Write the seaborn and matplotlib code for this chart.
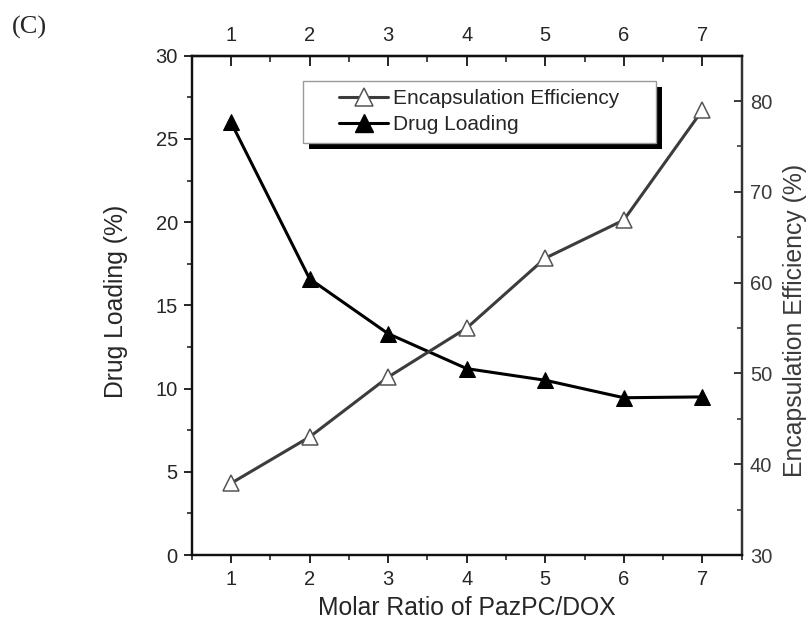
import matplotlib
matplotlib.use("Agg")
import matplotlib.pyplot as plt
import seaborn as sns
import pandas as pd
from matplotlib.patches import Rectangle
from matplotlib.ticker import MultipleLocator
from matplotlib.lines import Line2D

# Molar ratio PazPC/DOX
ratio = [1, 2, 3, 4, 5, 6, 7]
# Drug loading (%) - left axis
drug_loading = [26.0, 16.6, 13.3, 11.2, 10.5, 9.45, 9.5]
# Encapsulation efficiency (%) - right axis
encap_eff = [37.9, 43.0, 49.6, 55.0, 62.7, 66.9, 79.0]

series_names = ["Encapsulation Efficiency", "Drug Loading"]

df = pd.DataFrame({"ratio": ratio, "dl": drug_loading, "ee": encap_eff})

sns.set_theme(style="ticks")
plt.rcParams["font.family"] = ["Liberation Sans", "DejaVu Sans"]

fig = plt.figure(figsize=(8.11, 6.30), dpi=100)
ax = fig.add_axes([0.2364, 0.119, 0.6781, 0.7926])
ax2 = ax.twinx()

ee_col = "#3c3c3c"
ee_edge = "#555555"
right_col = "#3a3a3a"
tick_fs = 14.5

sns.lineplot(data=df, x="ratio", y="ee", ax=ax2, color=ee_col, lw=2.2,
             marker="^", markersize=11.5, markerfacecolor="white",
             markeredgecolor=ee_edge, markeredgewidth=1.1)
sns.lineplot(data=df, x="ratio", y="dl", ax=ax, color="black", lw=2.2,
             marker="^", markersize=11.5, markerfacecolor="black",
             markeredgecolor="black")

ax.set_xlim(0.5, 7.5)
ax.set_ylim(0, 30)
ax2.set_ylim(30, 85)

ax.xaxis.set_major_locator(MultipleLocator(1))
ax.xaxis.set_minor_locator(MultipleLocator(0.5))
ax.yaxis.set_major_locator(MultipleLocator(5))
ax.yaxis.set_minor_locator(MultipleLocator(2.5))
ax2.yaxis.set_major_locator(MultipleLocator(10))
ax2.yaxis.set_minor_locator(MultipleLocator(5))

for a in (ax, ax2):
    for s in a.spines.values():
        s.set_linewidth(1.6)
        s.set_color("#111111")
ax2.spines["right"].set_color("#333333")

# bottom and left ticks point outward
ax.tick_params(axis="x", which="major", direction="out", length=6,
               width=1.4, labelsize=tick_fs, pad=5, top=False)
ax.tick_params(axis="x", which="minor", direction="out", length=3.5,
               width=1.2, top=False)
ax.tick_params(axis="y", which="major", direction="out", length=6,
               width=1.4, labelsize=tick_fs, pad=4)
ax.tick_params(axis="y", which="minor", direction="out", length=3.5,
               width=1.2)
# right ticks point inward
ax2.tick_params(axis="y", which="major", direction="in", length=6,
                width=1.4, labelsize=tick_fs, pad=6, colors=right_col)
ax2.tick_params(axis="y", which="minor", direction="in", length=3.5,
                width=1.2, colors=right_col)

# top axis repeats the ratios with inward ticks
top = ax.secondary_xaxis("top")
top.xaxis.set_major_locator(MultipleLocator(1))
top.xaxis.set_minor_locator(MultipleLocator(0.5))
top.tick_params(axis="x", which="major", direction="in", length=7,
                width=1.4, labelsize=tick_fs, pad=8)
top.tick_params(axis="x", which="minor", direction="in", length=4,
                width=1.2)
top.spines["top"].set_linewidth(1.6)

ax.set_xlabel("Molar Ratio of PazPC/DOX", fontsize=17.8, labelpad=5)
ax.set_ylabel("Drug Loading (%)", fontsize=17.8, labelpad=20)
ax2.set_ylabel("Encapsulation Efficiency (%)", fontsize=17.8, labelpad=8,
               color=right_col)
ax.yaxis.label.set_y(0.508)
ax2.yaxis.label.set_y(0.469)

handles = [
    Line2D([], [], color=ee_col, lw=2.2, marker="^", markersize=13,
           markerfacecolor="white", markeredgecolor=ee_edge,
           markeredgewidth=1.1),
    Line2D([], [], color="black", lw=2.2, marker="^", markersize=13,
           markerfacecolor="black", markeredgecolor="black"),
]
leg = ax.legend(handles, series_names, loc="center",
                bbox_to_anchor=(0.5233, 0.8878), fontsize=15, frameon=False,
                handlelength=2.35, handletextpad=0.25, borderpad=0,
                labelspacing=0.32, borderaxespad=0)
leg.set_zorder(12)

# legend frame with a black drop shadow
box_x0, box_x1 = 0.2024, 0.8442
box_y0, box_y1 = 0.8258, 0.950
shadow = Rectangle((box_x0 + 0.011, box_y0 - 0.012), box_x1 - box_x0,
                   box_y1 - box_y0, transform=ax.transAxes,
                   facecolor="black", edgecolor="none", zorder=10,
                   clip_on=False)
frame = Rectangle((box_x0, box_y0), box_x1 - box_x0, box_y1 - box_y0,
                  transform=ax.transAxes, facecolor="white",
                  edgecolor="#9a9a9a", lw=1.0, zorder=11, clip_on=False)
ax.add_patch(shadow)
ax.add_patch(frame)

fig.text(0.0148, 0.956, "(C)", fontsize=19, family="Liberation Serif",
         va="center", ha="left")

fig.savefig("out.png", dpi=100)
